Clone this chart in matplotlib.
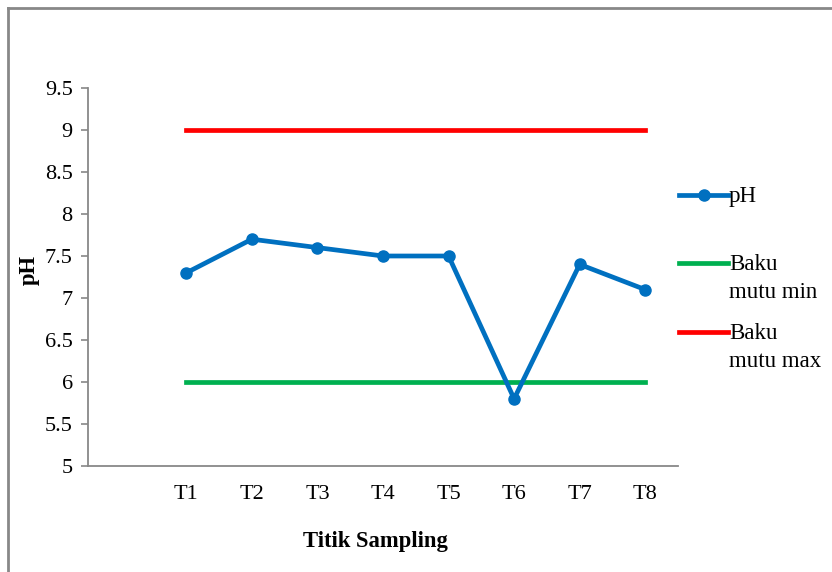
import matplotlib
matplotlib.use('Agg')
import matplotlib.pyplot as plt
from matplotlib.lines import Line2D

plt.rcParams['font.family'] = 'Liberation Serif'

# data
titik = ["", "T1", "T2", "T3", "T4", "T5", "T6", "T7", "T8"]
ph = [7.3, 7.7, 7.6, 7.5, 7.5, 5.8, 7.4, 7.1]
baku_min = [6] * 8
baku_max = [9] * 8

W, H = 832, 572
fig = plt.figure(figsize=(W / 100, H / 100), dpi=100)
ax = fig.add_axes([88/W, 1 - 466/H, 590/W, 378/H])

xs = list(range(1, len(titik)))
series = [
    (ph, "#0070C0", "o", "pH"),
    (baku_min, "#00B050", None, "Baku\nmutu min"),
    (baku_max, "#FF0000", None, "Baku\nmutu max"),
]
for vals, col, mk, lab in series:
    ax.plot(xs, vals, color=col, lw=3.4, marker=mk, ms=8, zorder=3 if mk else 2)

ax.set_xlim(-0.5, len(titik) - 0.5)
ax.set_ylim(5, 9.5)
ax.set_xticks(range(len(titik)))
ax.set_xticklabels(titik)
yt = [5, 5.5, 6, 6.5, 7, 7.5, 8, 8.5, 9, 9.5]
ax.set_yticks(yt)
ax.set_yticklabels([f"{v:g}" for v in yt])
ax.tick_params(axis='x', length=0, pad=14, labelsize=16)
ax.tick_params(axis='y', length=5, width=1.2, color="#888888", pad=6, labelsize=16)

for s in ["top", "right"]:
    ax.spines[s].set_visible(False)
for s in ["left", "bottom"]:
    ax.spines[s].set_color("#888888")
    ax.spines[s].set_linewidth(1.3)

ax.set_xlabel("Titik Sampling", fontsize=16.3, fontweight="bold")
ax.set_ylabel("pH", fontsize=16.3, fontweight="bold")
ax.xaxis.set_label_coords((375 - 88) / 590, -(531 - 466) / 378)
ax.yaxis.set_label_coords((40 - 88) / 590, (466 - 270) / 378)

# legend drawn by hand (Excel style, text starts right after the line)
leg_y = [195, 263, 332]
for (vals, col, mk, lab), y in zip(series, leg_y):
    yf = 1 - y / H
    fig.add_artist(Line2D([679/W, 728/W], [yf, yf], transform=fig.transFigure,
                          color=col, lw=3.4))
    if mk:
        fig.add_artist(Line2D([703.5/W], [yf], transform=fig.transFigure,
                              color=col, marker=mk, ms=8))
    fig.text(729/W, 1 - (y - 9) / H, lab, fontsize=16.5, va="top", ha="left",
             linespacing=1.45)

# outer frame (top and left edges visible)
fig.add_artist(Line2D([8/W, 8/W], [0, 1 - 8/H], transform=fig.transFigure,
                      color="#888888", lw=2))
fig.add_artist(Line2D([8/W, 1], [1 - 8/H, 1 - 8/H], transform=fig.transFigure,
                      color="#888888", lw=2))

fig.savefig("out.png", dpi=100)
